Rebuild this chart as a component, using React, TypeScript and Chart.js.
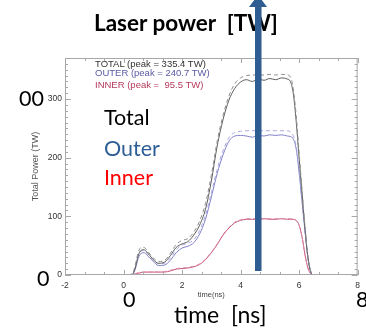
import React, { useEffect, useRef } from "react";
import { Chart, registerables } from "chart.js";

Chart.register(...registerables);

// ---- data ----
const TIMES = [-2, -0.5, 0, 0.3, 0.4, 0.5, 0.6, 0.7, 0.8, 1.0, 1.2, 1.4, 1.6, 1.8, 2.0, 2.2, 2.4, 2.6, 2.8, 3.0, 3.2, 3.4, 3.6, 3.8, 4.0, 4.2, 4.4, 4.6, 4.8, 5.0, 5.2, 5.4, 5.6, 5.7, 5.8, 5.9, 6.0, 6.1, 6.2, 6.3, 6.4, 6.5, 6.6, 8];
const TOTAL = [0, 0, 0, 1, 12, 33, 42, 43, 39, 27, 20, 22, 33, 47, 53, 57, 68, 85, 112, 160, 220, 265, 298, 318, 329, 333, 330, 334, 332, 335, 333, 336, 334, 330, 310, 262, 200, 140, 80, 30, 5, 0, 0, 0];
const TOTAL_DASH = [0, 0, 0, 2, 17, 38, 47, 47, 42, 30, 23, 25, 37, 52, 59, 62, 73, 92, 122, 170, 228, 272, 305, 326, 336, 340, 341, 341, 341, 342, 341, 342, 341, 338, 318, 272, 208, 145, 84, 32, 6, 0, 0, 0];
const OUTER = [0, 0, 0, 1, 10, 28, 37, 38, 34, 24, 16, 17, 25, 38, 46, 49, 55, 70, 95, 133, 173, 205, 228, 237, 238, 237, 235, 238, 237, 239, 238, 239, 237, 236, 232, 215, 175, 125, 75, 30, 5, 0, 0, 0];
const OUTER_DASH = [0, 0, 0, 1, 13, 32, 41, 42, 37, 27, 19, 20, 29, 43, 51, 54, 60, 76, 102, 140, 180, 212, 234, 243, 245, 246, 246, 246, 246, 246, 246, 246, 246, 244, 238, 220, 180, 128, 77, 31, 5, 0, 0, 0];
const INNER = [0, 0, 0, 0, 2, 3, 4, 5, 5, 5, 5, 5, 7, 10, 11, 12, 14, 18, 26, 38, 52, 68, 80, 89, 93, 95, 95, 95, 96, 95, 95, 96, 95, 95, 95, 93, 85, 65, 35, 12, 2, 0, 0, 0];
const INNER_DASH = [0, 0, 0, 0, 2, 4, 5, 5, 5, 5, 5, 6, 8, 11, 12, 13, 15, 19, 27, 39, 53, 69, 81, 90, 94, 96, 96, 96, 96, 96, 96, 96, 96, 96, 95, 93, 85, 65, 35, 12, 2, 0, 0, 0];

const X_MIN = -2;
const X_MAX = 8;
const X_STEP = 2;
const Y_MIN = 0;
const Y_MAX = 370;
const Y_TICKS = [0, 100, 200, 300];

const LEGEND = [
  { text: "TOTAL (peak = 335.4 TW)", color: "#333333", top: 58.5 },
  { text: "OUTER (peak = 240.7 TW)", color: "#5a5aa6", top: 68 },
  { text: "INNER (peak =  95.5 TW)", color: "#b53a5c", top: 80 },
];

const toPts = (vals: number[]) => TIMES.map((t, i) => ({ x: t, y: vals[i] }));

const frameTicks = {
  id: "frameTicks",
  afterDatasetsDraw(chart: any) {
    const { ctx, chartArea: a, scales } = chart;
    const x = scales.x;
    const y = scales.y;
    ctx.save();
    ctx.strokeStyle = "#a8a8a8";
    ctx.lineWidth = 1;
    ctx.strokeRect(a.left + 0.5, a.top + 0.5, a.right - a.left - 1, a.bottom - a.top - 1);
    const line = (x1: number, y1: number, x2: number, y2: number) => {
      ctx.beginPath();
      ctx.moveTo(x1, y1);
      ctx.lineTo(x2, y2);
      ctx.stroke();
    };
    const minor = X_STEP / 3;
    for (let k = 0; X_MIN + k * minor <= X_MAX + 1e-6; k++) {
      const v = X_MIN + k * minor;
      const px = Math.round(x.getPixelForValue(v)) + 0.5;
      const len = k % 3 === 0 ? 5 : 3;
      line(px, a.bottom, px, a.bottom - len);
      line(px, a.top, px, a.top + len);
    }
    for (let v = Y_MIN; v <= Y_MAX; v += 10) {
      const py = Math.round(y.getPixelForValue(v)) + 0.5;
      const len = v % 100 === 0 ? 6 : 3;
      line(a.left, py, a.left + len, py);
      line(a.right, py, a.right - len, py);
    }
    ctx.restore();
  },
};

const bigFont = "Lato, 'Open Sans', sans-serif";

export default function App() {
  const ref = useRef<HTMLCanvasElement | null>(null);

  useEffect(() => {
    if (!ref.current) return;
    Chart.defaults.font.family = "'Liberation Sans', Arial, sans-serif";
    const ds = (label: string, vals: number[], color: string, dash: number[]) => ({
      label,
      data: toPts(vals),
      borderColor: color,
      borderWidth: 1,
      borderDash: dash,
      pointRadius: 0,
      fill: false,
      cubicInterpolationMode: "monotone" as const,
    });
    const chart = new Chart(ref.current, {
      type: "line",
      data: {
        datasets: [
          ds("TOTAL dashed", TOTAL_DASH, "#8f8f8f", [4, 3]),
          ds("TOTAL", TOTAL, "#5c5c5c", []),
          ds("OUTER dashed", OUTER_DASH, "#a8a8de", [4, 3]),
          ds("OUTER", OUTER, "#8080c8", []),
          ds("INNER dashed", INNER_DASH, "#dc8ca6", [4, 3]),
          ds("INNER", INNER, "#c5527a", []),
        ],
      },
      options: {
        animation: false,
        responsive: false,
        events: [],
        layout: { padding: { left: 0, top: 58, right: 5, bottom: 0 } },
        plugins: { legend: { display: false }, tooltip: { enabled: false } },
        scales: {
          x: {
            type: "linear",
            min: X_MIN,
            max: X_MAX,
            ticks: { stepSize: X_STEP, font: { size: 8.5 }, color: "#333", padding: 6 },
            grid: { display: false, drawTicks: false },
            border: { display: false },
            title: { display: true, text: "time(ns)", font: { size: 7.5 }, color: "#444", padding: { top: 0, bottom: 28.5 } },
            afterFit: (s: any) => { s.height = 53; },
          },
          y: {
            type: "linear",
            min: Y_MIN,
            max: Y_MAX,
            afterBuildTicks: (s: any) => { s.ticks = Y_TICKS.map((v) => ({ value: v })); },
            ticks: { font: { size: 8.5 }, color: "#333", padding: 3 },
            grid: { display: false, drawTicks: false },
            border: { display: false },
            title: { display: true, text: "Total Power (TW)", font: { size: 9 }, color: "#555", padding: { top: 30, bottom: 0 } },
            afterFit: (s: any) => { s.width = 65; },
          },
        },
      },
      plugins: [frameTicks],
    });
    return () => chart.destroy();
  }, []);

  const abs = (o: React.CSSProperties): React.CSSProperties => ({ position: "absolute", lineHeight: 1, whiteSpace: "pre", margin: 0, ...o });

  return (
    <div style={{ position: "absolute", left: 0, top: 0, width: 366, height: 328, overflow: "hidden", background: "#fff" }}>
      <canvas ref={ref} width={366} height={328} style={{ position: "absolute", left: 0, top: 0, width: 366, height: 328 }} />
      {LEGEND.map((l) => (
        <div key={l.text} style={abs({ left: 95, top: l.top, fontSize: 9.5, color: l.color, fontFamily: "'Liberation Sans', Arial, sans-serif" })}>{l.text}</div>
      ))}
      <div style={abs({ left: 94, top: 12, fontSize: 22.5, fontWeight: 700, color: "#000", fontFamily: bigFont })}>Laser power  [TW]</div>
      <div style={abs({ left: 104, top: 107, fontSize: 21.5, color: "#000", fontFamily: bigFont })}>Total</div>
      <div style={abs({ left: 104, top: 138, fontSize: 21.5, color: "#2e5e96", fontFamily: bigFont })}>Outer</div>
      <div style={abs({ left: 104, top: 167, fontSize: 21.5, color: "#ff0000", fontFamily: bigFont })}>Inner</div>
      <div style={abs({ left: 19, top: 88, fontSize: 21.5, color: "#000", fontFamily: bigFont })}>00</div>
      <div style={abs({ left: 37, top: 268, fontSize: 21.5, color: "#000", fontFamily: bigFont })}>0</div>
      <div style={abs({ left: 123, top: 289, fontSize: 21.5, color: "#000", fontFamily: bigFont })}>0</div>
      <div style={abs({ left: 356, top: 289, fontSize: 21.5, color: "#000", fontFamily: bigFont })}>8</div>
      <div style={abs({ left: 174, top: 303, fontSize: 23, color: "#000", fontFamily: bigFont })}>time  [ns]</div>
      <svg width={366} height={328} style={{ position: "absolute", left: 0, top: 0 }}>
        <rect x={255} y={6} width={6.5} height={265} fill="#2f5d91" />
        <polygon points="249,7 267,7 258,-5" fill="#2f5d91" />
      </svg>
    </div>
  );
}
